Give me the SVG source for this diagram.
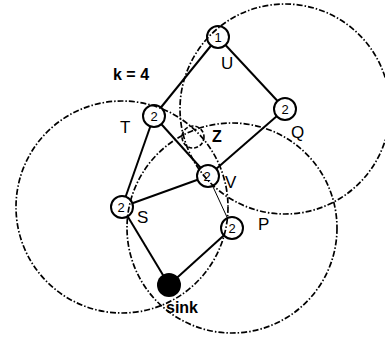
<svg xmlns="http://www.w3.org/2000/svg" width="385" height="341" viewBox="0 0 385 341">
<style>
.edge{stroke:#000;stroke-width:2;fill:none}
.thin{stroke:#000;stroke-width:1;fill:none}
.node{fill:#fff;stroke:#000;stroke-width:2}
.range{fill:none;stroke:#000;stroke-width:1.7;stroke-dasharray:6 2 1.5 2}
.zone{fill:none;stroke:#000;stroke-width:1.6;stroke-dasharray:4 2}
.num{font-family:"Liberation Sans",Arial,sans-serif;font-size:13px;text-anchor:middle}
.lbl{font-family:"Liberation Sans",Arial,sans-serif;font-size:17px}
.bold{font-family:"Liberation Sans",Arial,sans-serif;font-size:16px;font-weight:bold}
</style>
<rect width="385" height="341" fill="#fff"/>
<g id="connectors">
<line class="edge" x1="218" y1="37" x2="154" y2="116"/>
<line class="edge" x1="218" y1="37" x2="285" y2="109"/>
<line class="edge" x1="154" y1="116" x2="122" y2="207"/>
<line class="edge" x1="154" y1="116" x2="208" y2="176"/>
<line class="edge" x1="285" y1="109" x2="208" y2="176"/>
<line class="edge" x1="122" y1="207" x2="208" y2="176"/>
<line class="thin" x1="208" y1="176" x2="232" y2="228"/>
<line class="edge" x1="122" y1="207" x2="169" y2="285"/>
<line class="edge" x1="232" y1="228" x2="169" y2="285"/>
</g>
<g id="node-U"><circle class="node" cx="218" cy="37" r="11"/><text class="num" x="218" y="42">1</text><text class="lbl" x="221" y="69">U</text></g>
<g id="node-T"><circle class="node" cx="154" cy="116" r="11"/><text class="num" x="154" y="121">2</text><text class="lbl" x="120" y="133">T</text></g>
<g id="node-Q"><circle class="node" cx="285" cy="109" r="11"/><text class="num" x="285" y="114">2</text><text class="lbl" x="291" y="138">Q</text></g>
<g id="node-V"><circle class="node" cx="208" cy="176" r="11"/><text class="num" x="207" y="181">2</text><text class="lbl" x="225" y="188">V</text></g>
<g id="node-S"><circle class="node" cx="122" cy="207" r="11"/><text class="num" x="121" y="212">2</text><text class="lbl" x="137" y="223">S</text></g>
<g id="node-P"><circle class="node" cx="232" cy="228" r="11"/><text class="num" x="232" y="233">2</text><text class="lbl" x="258" y="230">P</text></g>
<g id="node-sink"><circle cx="169" cy="285" r="12" fill="#000"/><text class="bold" x="166" y="313">sink</text></g>
<g id="ranges">
<circle class="range" cx="285" cy="109" r="105"/>
<circle class="range" cx="122" cy="207" r="106"/>
<circle class="range" cx="232" cy="228" r="105"/>
</g>
<g id="zone-Z"><circle class="zone" cx="193" cy="137" r="11"/><text class="bold" x="212" y="142">Z</text></g>
<text class="bold" x="113" y="80">k = 4</text>
</svg>
